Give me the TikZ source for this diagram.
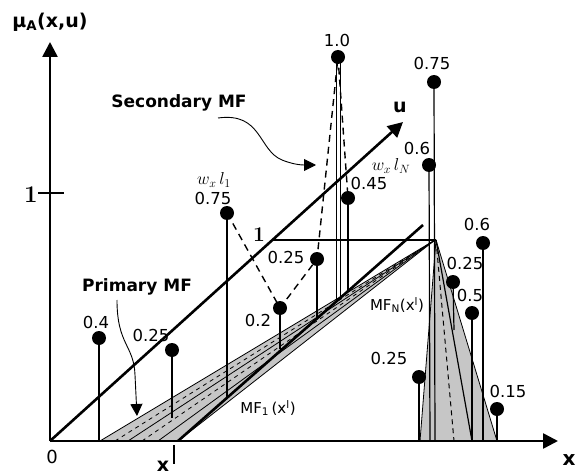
\documentclass[tikz,border=0pt]{standalone}
\usepackage{fontspec}
\newfontfamily\dv{DejaVu Sans}
\usetikzlibrary{arrows.meta}
\begin{document}
\begin{tikzpicture}[x=1pt,y=-1pt,
  axis/.style={line width=2.6pt,-{Triangle[length=15pt,width=15pt]}},
  thickln/.style={line width=2.6pt},
  stem/.style={line width=1.2pt},
  thinln/.style={line width=0.8pt},
  dot/.style={circle,fill=black,inner sep=0pt,minimum size=14pt},
  num/.style={font=\dv\fontsize{16.5}{17}\selectfont,inner sep=0pt},
  blab/.style={font=\dv\bfseries\fontsize{17}{18}\selectfont,inner sep=0pt},
  sec/.style={line width=1.4pt,dash pattern=on 7pt off 5pt},
  bandfill/.style={fill=gray!45},
  callout/.style={line width=0.9pt,-{Triangle[length=12pt,width=12pt]}}
]
\useasboundingbox (0,0) rectangle (578,476);

% base coordinates
\coordinate (O) at (50,441);
\coordinate (ytip) at (50,42);
\coordinate (xtip) at (558,441);
\coordinate (utip) at (403,122);
\coordinate (xp) at (178,441);
\coordinate (xpend) at (423,225);
\coordinate (apexL) at (435,240);
\coordinate (apexR) at (436,240);
\coordinate (u1) at (272,240);

% primary MF band (left)
\fill[bandfill] (100,441) -- (178,441) -- (apexL) -- cycle;
\draw[thinln] (100,441) -- (apexL);
\draw[thinln] (128,441) -- (apexL);
\draw[thinln] (158,441) -- (apexL);
\draw[thinln] (178,441) -- (apexL);
\draw[line width=0.8pt,dash pattern=on 4pt off 4pt] (115,441) -- (apexL);
\draw[line width=0.8pt,dash pattern=on 4pt off 4pt] (142,441) -- (apexL);

% right triangle
\fill[bandfill] (420,441) -- (497,441) -- (apexR) -- cycle;
\draw[thinln] (apexR) -- (420,441);
\draw[thinln] (apexR) -- (497,441);
\draw[stem] (apexR) -- (472,441);
\draw[line width=1pt,dash pattern=on 5pt off 4pt] (apexR) -- (454,441);

% horizontal u=1 line
\draw[stem] (u1) -- (apexR);

% axes
\draw[axis] (O) -- (ytip);
\draw[axis] (O) -- (xtip);
\draw[axis] (O) -- (utip);
\draw[thickln] (xp) -- (xpend);
\draw[line width=1.5pt] (38,193) -- (64,193);
\draw[line width=1.8pt] (174,445) -- (174,464);

% dots
\node[dot] (d04) at (99,338) {};
\node[dot] (d025a) at (172,350) {};
\node[dot] (d075a) at (227,213) {};
\node[dot] (d02) at (280,308) {};
\node[dot] (d025b) at (317,259) {};
\node[dot] (d10) at (338,57) {};
\node[dot] (d045) at (348,198) {};
\node[dot] (d06a) at (429,165) {};
\node[dot] (d075b) at (434,82) {};
\node[dot] (d06b) at (483,243) {};
\node[dot] (d025c) at (453,282) {};
\node[dot] (d05) at (472,313) {};
\node[dot] (d025d) at (419,377) {};
\node[dot] (d015) at (497,409) {};

% stem feet
\coordinate (f04) at (99,441);
\coordinate (f025a) at (172,418);
\coordinate (f075a) at (227,398);
\coordinate (f02) at (280,349);
\coordinate (f025b) at (317,319);
\coordinate (f10a) at (336,300);
\coordinate (f10b) at (340,297);
\coordinate (f045) at (348,291);
\coordinate (f06a) at (430,441);
\coordinate (f075b) at (435,441);
\coordinate (f06b) at (483,441);
\coordinate (f025c) at (454,330);
\coordinate (f05) at (472,441);
\coordinate (f025d) at (419,441);
\coordinate (f015) at (497,441);

% stems
\draw[stem] (d04) -- (f04);
\draw[stem] (d025a) -- (f025a);
\draw[stem] (d075a) -- (f075a);
\draw[stem] (d02) -- (f02);
\draw[stem] (d025b) -- (f025b);
\draw[thinln] (d10.center) ++(-2,0) -- (f10a);
\draw[thinln] (d10.center) ++(2,0) -- (f10b);
\draw[stem] (d045) -- (f045);
\draw[stem] (d06a) -- (f06a);
\draw[stem] (d075b) -- (f075b);
\draw[stem] (d06b) -- (f06b);
\draw[stem] (d025c) -- (f025c);
\draw[stem] (d05) -- (f05);
\draw[stem] (d025d) -- (f025d);
\draw[stem] (d015) -- (f015);

% secondary MF dashed
\draw[sec] (d075a.center) -- (d02.center) -- (d025b.center) -- (d10.center) -- (d045.center);

% value labels
\node[num] (l10) at (337,40) {1.0};
\node[num] (l075b) at (432,63) {0.75};
\node[num] (l06a) at (417,148) {0.6};
\node[num] (l045) at (369,183) {0.45};
\node[num] (l075a) at (213,198) {0.75};
\node[num] (l025b) at (286,257) {0.25};
\node[num] (l02) at (258,320) {0.2};
\node[num] (l04) at (96,322) {0.4};
\node[num] (l025a) at (151,335) {0.25};
\node[num] (l06b) at (477,224) {0.6};
\node[num] (l025c) at (465,263) {0.25};
\node[num] (l05) at (470,295) {0.5};
\node[num] (l025d) at (389,358) {0.25};
\node[num] (l015) at (508,391) {0.15};
\node[num,font=\dv\fontsize{18}{18}\selectfont] (lzero) at (52,457) {0};

% w labels
\node[inner sep=0pt,font=\fontsize{17}{17}\selectfont] (w1) at (214,180) {$w_{x}\,l_{1}$};
\node[inner sep=0pt,font=\fontsize{17}{17}\selectfont] (wN) at (391,166) {$w_{x}\,l_{N}$};

% MF labels
\node[inner sep=0pt,font=\dv\fontsize{15}{15}\selectfont] (mf1) at (268,408) {MF\textsubscript{1}\,(x\textsuperscript{l})};
\node[inner sep=0pt,font=\dv\fontsize{15}{15}\selectfont] (mfN) at (397,305) {MF\textsubscript{N}(x\textsuperscript{l})};

% bold labels
\node[blab] (secl) at (179,103) {Secondary MF};
\node[blab] (priml) at (137,287) {Primary MF};
\node[blab,font=\dv\bfseries\fontsize{19}{19}\selectfont] (mul) at (50,22) {μ\textsubscript{A}(x,u)};
\node[inner sep=0pt,font=\dv\bfseries\fontsize{19}{19}\selectfont] (ul) at (400,107) {u};
\node[inner sep=0pt,font=\dv\bfseries\fontsize{20}{20}\selectfont] (xl) at (569,460) {x};
\node[inner sep=0pt,font=\dv\bfseries\fontsize{19}{19}\selectfont] (xpl) at (163,466) {x};
\node[inner sep=0pt,font=\bfseries\fontsize{24}{24}\selectfont] (one) at (31,195) {1};
\node[inner sep=0pt,font=\bfseries\fontsize{21}{21}\selectfont] (oneu) at (259,235) {1};

% callout arrows
\coordinate (sa) at (218,118);
\coordinate (se) at (316,165);
\draw[callout] (sa) .. controls (262,112) and (258,150) .. (282,160) .. controls (292,164) and (300,165) .. (se);
\coordinate (pa) at (117,300);
\coordinate (pe) at (137,416);
\draw[callout] (pa) .. controls (117,345) and (134,345) .. (135,375) -- (pe);
\end{tikzpicture}
\end{document}
